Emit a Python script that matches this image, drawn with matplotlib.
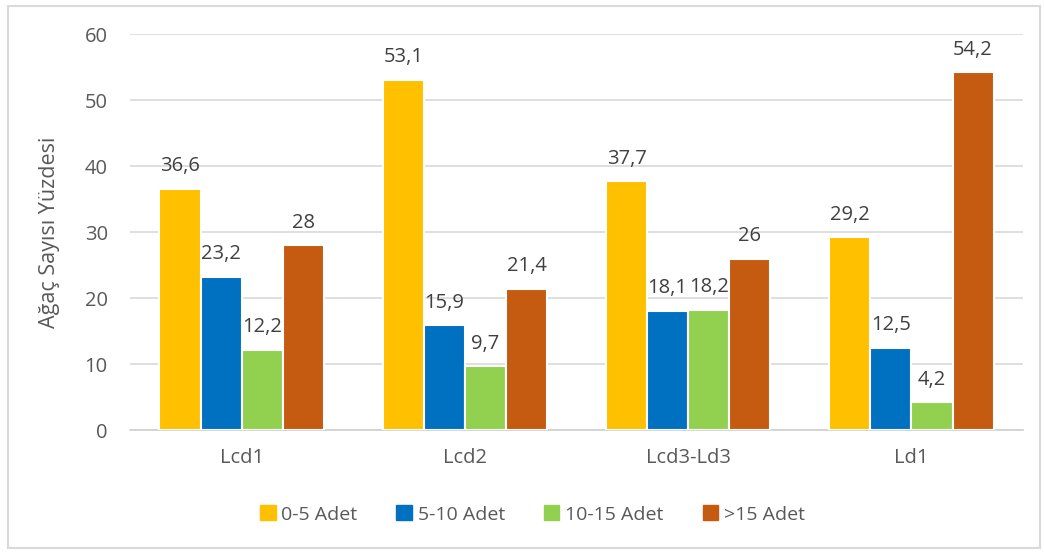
import matplotlib.pyplot as plt
import matplotlib.patches as mpatches
import numpy as np

plt.rcParams['font.family'] = ['Open Sans', 'DejaVu Sans']

categories = ['Lcd1', 'Lcd2', 'Lcd3-Ld3', 'Ld1']
series_names = ['0-5 Adet', '5-10 Adet', '10-15 Adet', '>15 Adet']
v_0_5 = [36.6, 53.1, 37.7, 29.2]
v_5_10 = [23.2, 15.9, 18.1, 12.5]
v_10_15 = [12.2, 9.7, 18.2, 4.2]
v_15 = [28, 21.4, 26, 54.2]
series = [v_0_5, v_5_10, v_10_15, v_15]
colors = ['#FFC000', '#0070C0', '#92D050', '#C55A11']

def fmt(v):
    s = ('%g' % v)
    return s.replace('.', ',')

fig = plt.figure(figsize=(10.44, 5.52), dpi=100)
ax = fig.add_axes([0.1245, 0.221, 0.8555, 0.717])

x = np.arange(len(categories))
w = 0.184
gray = '#595959'
for i, vals in enumerate(series):
    pos = x + (i - 1.5) * w
    ax.bar(pos, vals, width=w, color=colors[i], edgecolor='white',
           linewidth=1.5, label=series_names[i], zorder=3)
    for xb, v in zip(pos, vals):
        ax.annotate(fmt(v), (xb, v), xytext=(0, 9), textcoords='offset points',
                    ha='center', va='bottom', fontsize=14.5, color='#404040', zorder=4)

ax.set_xlim(-0.5, 3.5)
ax.set_ylim(0, 60)
ax.set_yticks(range(0, 61, 10))
ax.set_xticks(x)
ax.set_xticklabels(categories)
ax.tick_params(axis='both', length=0, labelsize=14.5, colors=gray)
ax.tick_params(axis='x', pad=13)
ax.tick_params(axis='y', pad=16)
ax.grid(axis='y', color='#d9d9d9', linewidth=1.2, zorder=0)
for s in ['top', 'right', 'left']:
    ax.spines[s].set_visible(False)
ax.spines['bottom'].set_color('#d0d0d0')
ax.spines['bottom'].set_linewidth(1.2)
ax.set_ylabel('Ağaç Sayısı Yüzdesi', fontsize=15.5, color=gray, labelpad=18)

handles = [mpatches.Patch(color=c) for c in colors]
fig.legend(handles, series_names, loc='center', bbox_to_anchor=(0.51, 0.068), ncol=4,
           frameon=False, fontsize=14, handlelength=0.8, handleheight=0.8,
           handletextpad=0.3, columnspacing=2.0, labelcolor=gray)

fig.patches.append(mpatches.Rectangle((0.008, 0.008), 0.988, 0.982, transform=fig.transFigure,
                                      fill=False, edgecolor='#d9d9d9', linewidth=1.5))

fig.savefig('out.png', dpi=100)
